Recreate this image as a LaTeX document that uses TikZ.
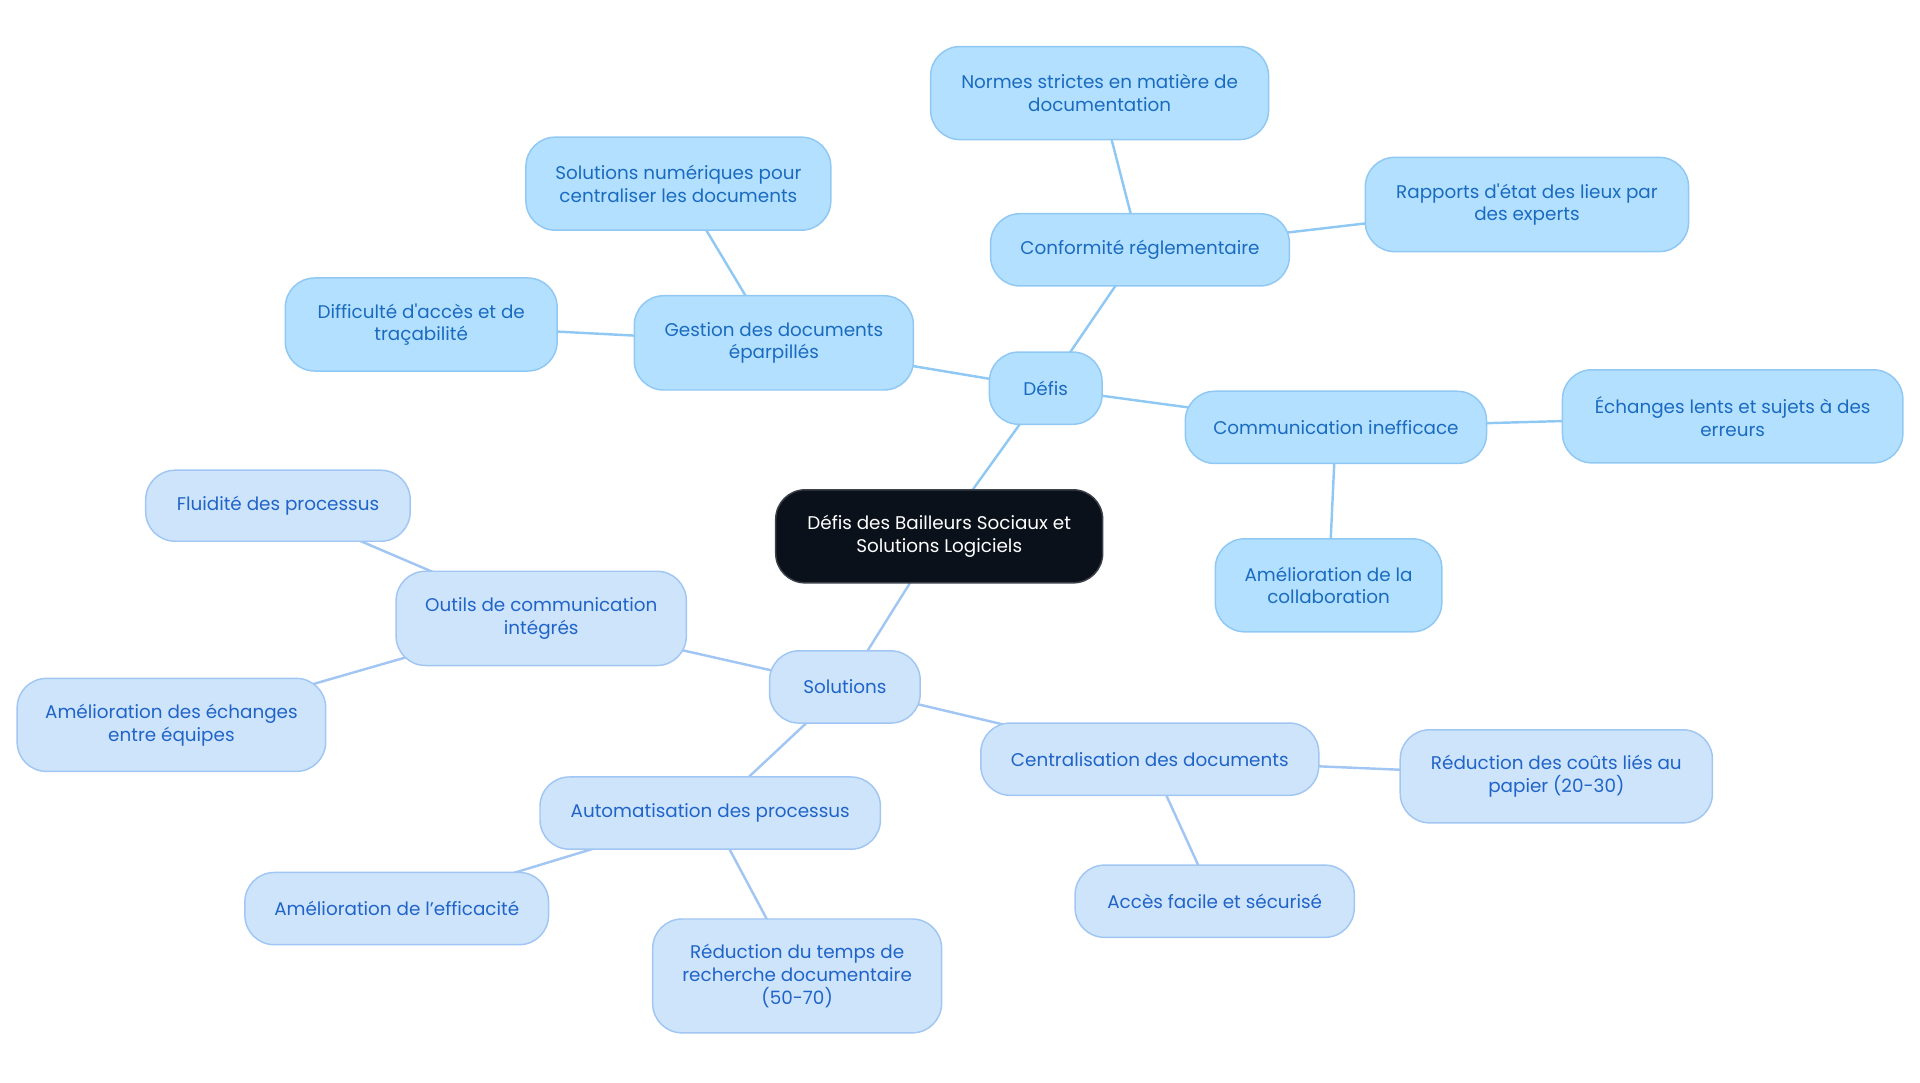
\documentclass[tikz,border=0pt]{standalone}
\usepackage{fontspec}
\newfontfamily\mf{Poppins}
\usetikzlibrary{backgrounds}
\definecolor{dfill}{HTML}{B3E0FE}
\definecolor{ddraw}{HTML}{90C8F4}
\definecolor{dtext}{HTML}{1A6BC0}
\definecolor{sfill}{HTML}{CDE4FB}
\definecolor{sdraw}{HTML}{A2C6F3}
\definecolor{stext}{HTML}{2064C8}
\definecolor{cfill}{HTML}{0B111B}
\tikzset{
  base/.style={rounded corners=24pt, draw, line width=1.2pt, align=center, inner sep=0pt,
    font=\mf\fontsize{15}{18.5}\selectfont},
  box/.style 2 args={minimum width=#1pt, minimum height=#2pt},
  dnode/.style={base, fill=dfill, draw=ddraw, text=dtext},
  snode/.style={base, fill=sfill, draw=sdraw, text=stext},
  cnode/.style={base, fill=cfill, draw=cfill!80!white, text=white},
  dline/.style={draw=ddraw, line width=2pt},
  sline/.style={draw=sdraw, line width=2pt},
}
\begin{document}
\begin{tikzpicture}[x=1pt,y=-1pt]
\useasboundingbox (0,0) rectangle (1568,884);
\node[cnode, box={267}{76}] (c) at (767,438) {Défis des Bailleurs Sociaux et\\Solutions Logiciels};
% Defis branch
\node[dnode, box={92}{59}] (d) at (854,317) {Défis};
\node[dnode, box={244}{59}] (conf) at (931,204) {Conformité réglementaire};
\node[dnode, box={276}{76}] (norm) at (898,76) {Normes strictes en matière de\\documentation};
\node[dnode, box={264}{77}] (rapp) at (1247,167) {Rapports d'état des lieux par\\des experts};
\node[dnode, box={228}{77}] (gest) at (632,280) {Gestion des documents\\éparpillés};
\node[dnode, box={249}{76}] (snum) at (554,150) {Solutions numériques pour\\centraliser les documents};
\node[dnode, box={222}{76}] (diff) at (344,265) {Difficulté d'accès et de\\traçabilité};
\node[dnode, box={246}{59}] (comm) at (1091,349) {Communication inefficace};
\node[dnode, box={278}{76}] (ech) at (1415,340) {Échanges lents et sujets à des\\erreurs};
\node[dnode, box={185}{76}] (coll) at (1085,478) {Amélioration de la\\collaboration};
% Solutions branch
\node[snode, box={123}{59}] (s) at (690,561) {Solutions};
\node[snode, box={237}{77}] (outi) at (442,505) {Outils de communication\\intégrés};
\node[snode, box={216}{58}] (flu) at (227,413) {Fluidité des processus};
\node[snode, box={252}{76}] (amech) at (140,592) {Amélioration des échanges\\entre équipes};
\node[snode, box={276}{59}] (cent) at (939,620) {Centralisation des documents};
\node[snode, box={255}{76}] (red) at (1271,634) {Réduction des coûts liés au\\papier (20-30)};
\node[snode, box={228}{59}] (acc) at (992,736) {Accès facile et sécurisé};
\node[snode, box={278}{59}] (auto) at (580,664) {Automatisation des processus};
\node[snode, box={248}{59}] (eff) at (324,742) {Amélioration de l’efficacité};
\node[snode, box={236}{93}] (rtemp) at (651,797) {Réduction du temps de\\recherche documentaire\\(50-70)};
\begin{pgfonlayer}{background}
\draw[dline] (c.center) -- (d.center);
\draw[dline] (d.center) -- (conf.center);
\draw[dline] (conf.center) -- (norm.center);
\draw[dline] (conf.center) -- (rapp.center);
\draw[dline] (d.center) -- (gest.center);
\draw[dline] (gest.center) -- (snum.center);
\draw[dline] (gest.center) -- (diff.center);
\draw[dline] (d.center) -- (comm.center);
\draw[dline] (comm.center) -- (ech.center);
\draw[dline] (comm.center) -- (coll.center);
\draw[sline] (c.center) -- (s.center);
\draw[sline] (s.center) -- (outi.center);
\draw[sline] (outi.center) -- (flu.center);
\draw[sline] (outi.center) -- (amech.center);
\draw[sline] (s.center) -- (cent.center);
\draw[sline] (cent.center) -- (red.center);
\draw[sline] (cent.center) -- (acc.center);
\draw[sline] (s.center) -- (auto.center);
\draw[sline] (auto.center) -- (eff.center);
\draw[sline] (auto.center) -- (rtemp.center);
\end{pgfonlayer}
\end{tikzpicture}
\end{document}
